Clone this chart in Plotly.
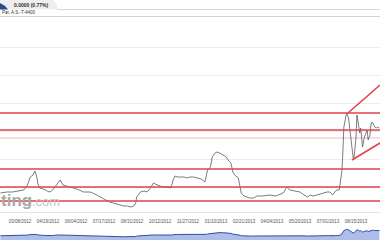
import plotly.graph_objects as go

# ---------------- data ----------------
day = [9, 16, 22, 30, 34, 38, 41, 44, 46, 48, 49, 51, 55, 59, 62, 65, 70, 73, 76, 80,
       86, 91, 98, 105, 108, 112, 116, 120, 123, 126, 130, 134, 137, 141, 145, 149, 152, 154, 155, 159,
       163, 166, 169, 173, 175, 177, 180, 183, 188, 191, 193, 194, 196, 199, 201, 206, 209, 212, 216, 220,
       224, 228, 230, 231, 234, 236, 239, 241, 244, 248, 251, 253, 256, 258, 260, 264, 266, 267, 270, 273,
       276, 280, 284, 290, 298, 304, 309, 312, 314, 316, 319, 323, 327, 330, 333, 338, 341, 344, 348, 351,
       355, 359, 362, 365, 368, 370, 372, 375, 376, 377, 379, 380, 382, 384, 386, 387, 388, 390, 391, 393,
       394, 395, 396, 397, 399, 402, 403, 405, 406, 407, 408, 410, 412, 413, 415]
price = [1.735, 1.7375, 1.7375, 1.74, 1.7425, 1.755, 1.775, 1.78, 1.79, 1.775, 1.76, 1.7475, 1.745, 1.74, 1.7375, 1.7425, 1.76, 1.7675, 1.755, 1.7525,
         1.75, 1.745, 1.7375, 1.7375, 1.735, 1.73, 1.725, 1.72, 1.7175, 1.7125, 1.71, 1.7075, 1.705, 1.7025, 1.7025, 1.70, 1.7025, 1.71, 1.725, 1.7375,
         1.74, 1.7375, 1.745, 1.76, 1.7575, 1.755, 1.7525, 1.75, 1.75, 1.7475, 1.7575, 1.7675, 1.7775, 1.775, 1.775, 1.775, 1.7725, 1.775, 1.775, 1.7725,
         1.77, 1.7625, 1.78, 1.7925, 1.80, 1.825, 1.835, 1.8375, 1.835, 1.83, 1.825, 1.8175, 1.81, 1.7875, 1.78, 1.7725, 1.75, 1.735, 1.7275, 1.725,
         1.7225, 1.7225, 1.7275, 1.7275, 1.73, 1.7275, 1.7325, 1.735, 1.7425, 1.75, 1.7425, 1.74, 1.7375, 1.7375, 1.7325, 1.725, 1.73, 1.7275, 1.73, 1.7325,
         1.735, 1.7375, 1.7375, 1.73, 1.74, 1.7425, 1.7425, 1.7925, 1.8425, 1.90, 1.925, 1.935, 1.9225, 1.875, 1.8425, 1.8225, 1.825, 1.875, 1.93, 1.90,
         1.885, 1.8975, 1.8625, 1.85, 1.875, 1.8925, 1.8675, 1.88, 1.905, 1.9125, 1.91, 1.90, 1.8975, 1.90, 1.8975]

levels = [1.935, 1.8925, 1.795, 1.75, 1.715]
faint_level = [1.8725]
upper_trend_day = [381.4, 415.7]
upper_trend_price = [1.935, 2.005]
lower_trend_day = [385.7, 415.7]
lower_trend_price = [1.8175, 1.86]

tick_days = [0, 30, 60, 90, 120, 150, 180, 210, 240, 270, 300, 330, 360, 390]
tick_text = ["01/25/2012", "03/08/2012", "04/19/2012", "06/04/2012", "07/17/2012", "08/31/2012",
             "10/12/2012", "11/27/2012", "01/10/2013", "02/21/2013", "04/04/2013", "05/20/2013",
             "07/01/2013", "08/15/2013"]

W, H = 380, 240
def px(x): return x / W
def py(y): return 1 - y / H

RED = "#e3414a"
FONT = "Liberation Sans, Arial, sans-serif"

fig = go.Figure()
fig.add_trace(go.Scatter(x=day, y=price, mode="lines",
                         line=dict(color="#5a5a5a", width=0.8), xaxis="x", yaxis="y",
                         hoverinfo="skip"))
fig.add_trace(go.Scatter(x=upper_trend_day, y=upper_trend_price, mode="lines",
                         line=dict(color=RED, width=1.6), xaxis="x", yaxis="y"))
fig.add_trace(go.Scatter(x=lower_trend_day, y=lower_trend_price, mode="lines",
                         line=dict(color=RED, width=1.6), xaxis="x", yaxis="y"))
# navigator
fig.add_trace(go.Scatter(x=day, y=price, mode="lines", fill="tozeroy",
                         fillcolor="rgba(110,135,215,0.55)",
                         line=dict(color="#2f4fa8", width=1), xaxis="x2", yaxis="y2"))

shapes = []
for lv in levels:
    shapes.append(dict(type="line", xref="x domain", x0=0, x1=1, yref="y", y0=lv, y1=lv,
                       line=dict(color=RED, width=1.6), layer="above"))
for lv in faint_level:
    shapes.append(dict(type="line", xref="x domain", x0=0, x1=1, yref="y", y0=lv, y1=lv,
                       line=dict(color="#f0b9bc", width=1), layer="below"))
# header decoration
shapes += [
    dict(type="path", xref="paper", yref="paper",
         path=f"M 0 {py(0)} L {px(52)} {py(0)} Q {px(56)} {py(0)} {px(58)} {py(9.5)} L 0 {py(9.5)} Z",
         fillcolor="#eeeeee", line=dict(width=0), layer="below"),
    dict(type="path", xref="paper", yref="paper",
         path=f"M 0 {py(3)} Q {px(5)} {py(5)} {px(8)} {py(9.5)} L 0 {py(9.5)} Z",
         fillcolor="#2b4c8c", line=dict(width=0)),
    dict(type="line", xref="paper", yref="paper", x0=px(57), x1=1, y0=py(9.5), y1=py(9.5),
         line=dict(color="#d6d6d6", width=1)),
    dict(type="line", xref="paper", yref="paper", x0=0, x1=1, y0=py(16.5), y1=py(16.5),
         line=dict(color="#d3d3d3", width=1)),
]

annotations = [
    dict(text="<b>0.0000 (0.77%)</b>", x=px(12), y=py(5), xref="paper", yref="paper",
         xanchor="left", yanchor="middle", showarrow=False,
         font=dict(size=5, color="#333333", family=FONT)),
    dict(text="Pat. A.S.-T-4400", x=px(0), y=py(12.8), xref="paper", yref="paper",
         xanchor="left", yanchor="middle", showarrow=False,
         font=dict(size=4.5, color="#333333", family=FONT)),
    dict(text="<b>ting</b>", x=px(-1), y=py(212), xref="paper", yref="paper",
         xanchor="left", yanchor="bottom", showarrow=False,
         font=dict(size=17, color="#a9a9a9", family=FONT)),
    dict(text=".com", x=px(30), y=py(211), xref="paper", yref="paper",
         xanchor="left", yanchor="bottom", showarrow=False,
         font=dict(size=13, color="#c4c4c4", family=FONT)),
]

fig.update_layout(
    width=W, height=H, margin=dict(l=0, r=0, t=0, b=0),
    paper_bgcolor="white", plot_bgcolor="white", showlegend=False,
    font=dict(family=FONT),
    xaxis=dict(domain=[0, 1], range=[8.57, 415.71], tickvals=tick_days, ticktext=tick_text,
               tickfont=dict(size=4.5, color="#555555"), ticks="outside", ticklen=5,
               tickcolor="rgba(0,0,0,0)", showgrid=False, zeroline=False,
               showline=True, linecolor="#e4e4e4", linewidth=1, anchor="y"),
    yaxis=dict(domain=[py(212), py(18)], range=[1.6875, 2.1725], tick0=1.75, dtick=0.07,
               showticklabels=False, gridcolor="#ececec", gridwidth=1, zeroline=False, anchor="x"),
    xaxis2=dict(domain=[0, 1], range=[8.57, 415.71], showticklabels=False, showgrid=False,
                zeroline=False, anchor="y2"),
    yaxis2=dict(domain=[0, py(222)], range=[1.60, 2.17], showticklabels=False, showgrid=False,
                zeroline=False, anchor="x2"),
    shapes=shapes, annotations=annotations,
)

fig.write_html("out.html")
